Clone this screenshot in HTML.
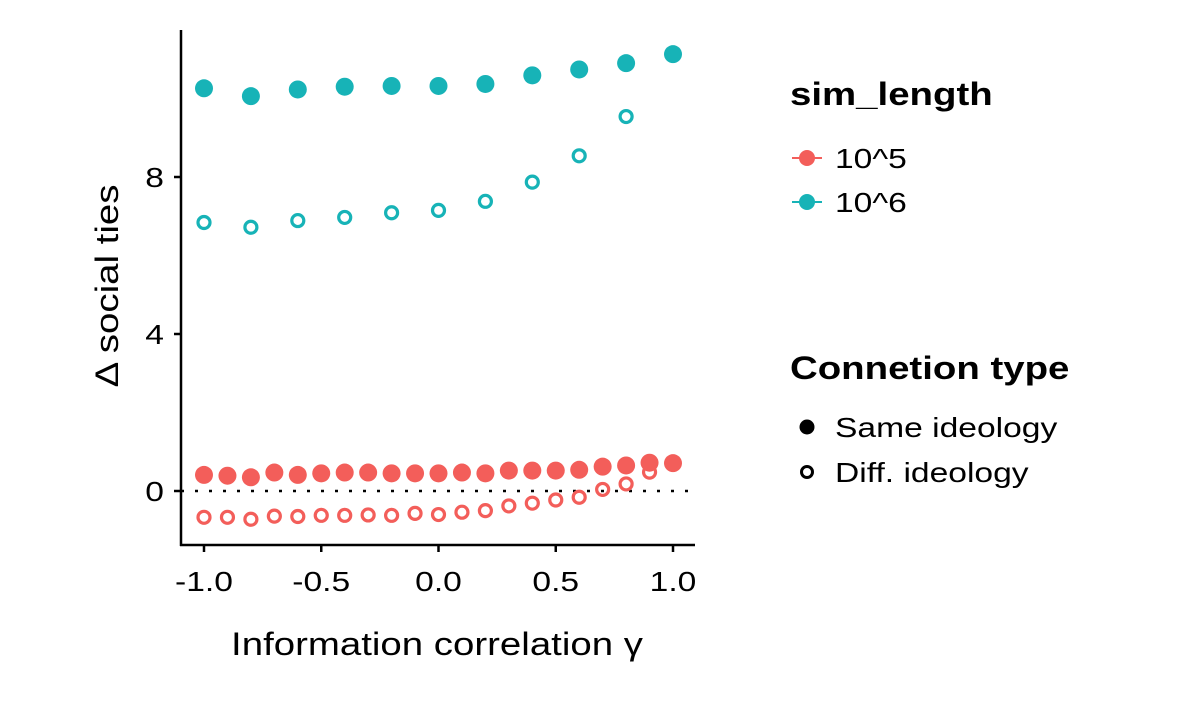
<!DOCTYPE html>
<html><head><meta charset="utf-8"><style>
body{margin:0;background:#fff;font-family:"Liberation Sans",sans-serif}
svg text{font-family:"Liberation Sans",sans-serif}
</style></head><body>
<svg id="chart" width="1181" height="708" xmlns="http://www.w3.org/2000/svg">
<rect width="1181" height="708" fill="#fff"/>
<g id="marks"></g>
<g id="axes" fill="#000" font-size="24"></g>
<text class="w" x="437" y="655" text-anchor="middle" font-size="32">Information correlation γ</text>
<text class="w" transform="translate(118,286) rotate(-90)" text-anchor="middle" font-size="32">Δ social ties</text>
<g>
<text class="w" x="790" y="105" font-size="32" font-weight="bold">sim_length</text>
<g><line x1="792" y1="158" x2="822" y2="158" stroke="#F35E5A" stroke-width="2"/><circle cx="807" cy="158" r="8" fill="#F35E5A"/><text class="w" x="835" y="168" font-size="28">10^5</text></g>
<g><line x1="792" y1="202" x2="822" y2="202" stroke="#17B3B7" stroke-width="2"/><circle cx="807" cy="202" r="8" fill="#17B3B7"/><text class="w" x="835" y="212" font-size="28">10^6</text></g>
</g>
<g>
<text class="w" x="790" y="379" font-size="32" font-weight="bold">Connetion type</text>
<g><circle cx="807" cy="427" r="7.5" fill="#000"/><text class="w" x="835" y="437" font-size="28">Same ideology</text></g>
<g><circle cx="807" cy="472" r="5.5" fill="none" stroke="#000" stroke-width="3"/><text class="w" x="835" y="482" font-size="28">Diff. ideology</text></g>
</g>
</svg>
<script>
const tealSameX=[-1,-0.8,-0.6,-0.4,-0.2,0,0.2,0.4,0.6,0.8,1];
const tealSame=[10.26,10.06,10.23,10.30,10.32,10.32,10.37,10.59,10.74,10.90,11.13];
const tealDiffX=[-1,-0.8,-0.6,-0.4,-0.2,0,0.2,0.4,0.6,0.8];
const tealDiff=[6.84,6.72,6.89,6.97,7.09,7.15,7.38,7.87,8.54,9.54];
const redSameX=[-1,-0.9,-0.8,-0.7,-0.6,-0.5,-0.4,-0.3,-0.2,-0.1,0,0.1,0.2,0.3,0.4,0.5,0.6,0.7,0.8,0.9,1];
const redSame=[0.41,0.39,0.35,0.47,0.41,0.45,0.47,0.47,0.45,0.45,0.45,0.47,0.45,0.52,0.52,0.52,0.54,0.62,0.65,0.72,0.71];
const redDiffX=[-1,-0.9,-0.8,-0.7,-0.6,-0.5,-0.4,-0.3,-0.2,-0.1,0,0.1,0.2,0.3,0.4,0.5,0.6,0.7,0.8,0.9];
const redDiff=[-0.67,-0.67,-0.72,-0.64,-0.65,-0.62,-0.62,-0.61,-0.62,-0.57,-0.60,-0.54,-0.50,-0.38,-0.31,-0.23,-0.16,0.04,0.18,0.48];
const xTicks=[-1,-0.5,0,0.5,1];
const xTickLabels=["-1.0","-0.5","0.0","0.5","1.0"];
const yTicks=[0,4,8];
const yTickLabels=["0","4","8"];
const NS="http://www.w3.org/2000/svg";
const xs=v=>438.5+v*234.5;
const ys=v=>491-v*39.25;
const marks=document.getElementById('marks'), axes=document.getElementById('axes');
function mk(tag,attrs,parent){const e=document.createElementNS(NS,tag);for(const k in attrs)e.setAttribute(k,attrs[k]);parent.appendChild(e);return e;}
const zl=mk('line',{x1:181,x2:695,y1:ys(0),y2:ys(0),stroke:'#000','stroke-width':2.5,'stroke-dasharray':'3 11'},marks);


function series(X,Y,color,filled,name){
  X.forEach((x,i)=>{
    const c=mk('circle',filled?{cx:xs(x),cy:ys(Y[i]),r:9,fill:color}:{cx:xs(x),cy:ys(Y[i]),r:6,fill:'none',stroke:color,'stroke-width':3.2},marks);
    
    
  });
}
series(redSameX,redSame,'#F35E5A',true,'red-same');
series(redDiffX,redDiff,'#F35E5A',false,'red-diff');
series(tealSameX,tealSame,'#17B3B7',true,'teal-same');
series(tealDiffX,tealDiff,'#17B3B7',false,'teal-diff');
const ya=mk('line',{x1:181,x2:181,y1:30,y2:546,stroke:'#000','stroke-width':2.5},axes);


const xa=mk('line',{x1:180,x2:695,y1:545,y2:545,stroke:'#000','stroke-width':2.5},axes);


xTicks.forEach((v,i)=>{
  mk('line',{x1:xs(v),x2:xs(v),y1:545,y2:552,stroke:'#000','stroke-width':2.5},axes);
  const t=mk('text',{x:xs(v),y:591,'text-anchor':'middle','font-size':28,'class':'w'},axes);
  t.textContent=xTickLabels[i];
  
  
});
yTicks.forEach((v,i)=>{
  mk('line',{x1:174,x2:181,y1:ys(v),y2:ys(v),stroke:'#000','stroke-width':2.5},axes);
  const t=mk('text',{x:164,y:ys(v)+10,'text-anchor':'end','font-size':28,'class':'w'},axes);
  t.textContent=yTickLabels[i];
  
  
});
document.querySelectorAll('text.w').forEach(t=>{
  const L=t.getComputedTextLength();
  t.setAttribute('textLength',(L*1.2).toFixed(1));
  t.setAttribute('lengthAdjust','spacingAndGlyphs');
});
</script>
</body></html>
